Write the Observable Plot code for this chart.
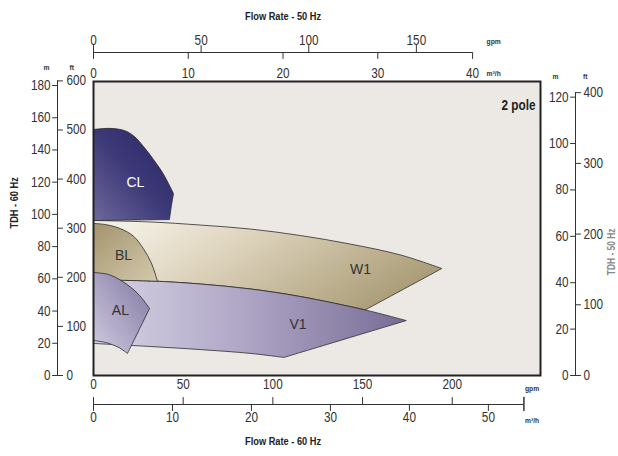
<!DOCTYPE html>
<html><head><meta charset="utf-8">
<script src="https://cdn.jsdelivr.net/npm/d3@7"></script>
<script src="https://cdn.jsdelivr.net/npm/@observablehq/plot@0.6"></script>
<style>html,body{margin:0;padding:0;background:#fff;} svg{display:block}</style>
</head><body><div id="chart"></div>
<script>
// unit conversions
const FT_PER_M = 3.2808;
const GPM_TO_M3H = 0.22712;
const Q50_TO_60 = 1.2;   // flow affinity 50 Hz -> 60 Hz
const H50_TO_60 = 1.44;  // head affinity 50 Hz -> 60 Hz

// axis tick values
const flow60M3hTicks = [0, 10, 20, 30, 40, 50];
const flow60GpmTicks = [0, 50, 100, 150, 200];
const flow60AxisEnd = 54.5;
const flow50M3hTicks = [0, 10, 20, 30, 40];
const flow50GpmTicks = [0, 50, 100, 150];
const head60MTicks = [0, 20, 40, 60, 80, 100, 120, 140, 160, 180];
const head60FtTicks = [0, 100, 200, 300, 400, 500, 600];
const head50MTicks = [0, 20, 40, 60, 80, 100, 120];
const head50FtTicks = [0, 100, 200, 300, 400];

// performance regions: flow (m3/h @60Hz) and head (m @60Hz)
const w1Flow = [0, 7.2, 13.5, 19.9, 26.2, 32.5, 38.9, 44.1, 34.4, 26.2, 19.9, 13.5, 7.2, 0, 0];
const w1Head = [96.2, 95.3, 93.4, 90.9, 86.9, 81.6, 74.8, 66.4, 40.7, 49.0, 53.7, 56.8, 58.7, 59.6, 96.2];
const v1Flow = [0, 7.2, 13.5, 19.9, 26.2, 34.4, 39.6, 24.1, 19.9, 13.5, 7.2, 0, 0];
const v1Head = [59.6, 58.7, 56.8, 53.7, 49.0, 40.7, 34.1, 11.2, 13.7, 16.1, 18.0, 19.9, 59.6];
const clFlow = [0, 1.27, 2.53, 4.05, 5.19, 6.33, 7.59, 8.73, 9.49, 10.13, 9.87, 9.62, 0, 0];
const clHead = [152.7, 153.3, 153.3, 151.8, 148.3, 142.1, 134.1, 126.0, 119.2, 113.0, 105.5, 96.8, 96.2, 152.7];
const blFlow = [0, 1.5, 3.4, 5.1, 6.3, 7.3, 8.1, 0, 0];
const blHead = [94.4, 93.7, 91.2, 86.3, 78.8, 70.1, 58.5, 59.6, 94.4];
const alFlow = [0, 1.9, 3.7, 5.6, 7.1, 4.3, 3.2, 1.5, 0, 0];
const alHead = [63.9, 62.7, 58.3, 50.9, 41.6, 13.7, 17.4, 20.5, 21.7, 63.9];

const regionNames = ["CL", "BL", "AL", "W1", "V1"];
const labelFlow = [5.3, 3.8, 3.4, 33.8, 25.9];
const labelHead = [119.9, 74.5, 40.3, 65.8, 31.6];

const X_MAX = 56.6, Y_MAX = 182.5;

// indices of sharp corners in each outline (the rest is a smooth curve)
const corners = {w1: [0, 7, 8, 13, 14], v1: [0, 6, 7, 11, 12], cl: [0, 9, 11, 12, 13], bl: [0, 6, 7, 8], al: [0, 4, 5, 8, 9]};

function outline(fx, hy, cornerIdx) {
  const out = [];
  fx.forEach((x, i) => {
    out.push({x, y: hy[i]});
    if (cornerIdx.includes(i)) out.push({x, y: hy[i]});
  });
  return out;
}
const labels = regionNames.map((name, i) => ({name, x: labelFlow[i], y: labelHead[i]}));

const FONT = "'Liberation Sans', Arial, sans-serif";
const INK = "#333";
const tickShape = {draw(ctx, l) { ctx.moveTo(0, 0); ctx.lineTo(0, -l); }};

function gradientDefs() {
  const defs = d3.create("svg:defs");
  const grads = [
    {id: "gCL", x1: 0, y1: 1, x2: 1, y2: 0, stops: [["0%", "#6d679b"], ["50%", "#3d3978"], ["100%", "#2a2664"]]},
    {id: "gW1", x1: 0, y1: 0.3, x2: 1, y2: 0.7, stops: [["0%", "#f4efe4"], ["35%", "#ddd3bc"], ["100%", "#a59770"]]},
    {id: "gBL", x1: 0, y1: 0, x2: 1, y2: 1, stops: [["0%", "#a3946c"], ["100%", "#d3c9ad"]]},
    {id: "gV1", x1: 0, y1: 0, x2: 1, y2: 0, stops: [["0%", "#d8d4e6"], ["50%", "#ada4c4"], ["100%", "#786c95"]]},
    {id: "gAL", x1: 1, y1: 0, x2: 0, y2: 1, stops: [["0%", "#8177a2"], ["100%", "#d0cbe0"]]}
  ];
  for (const g of grads) {
    const lg = defs.append("linearGradient").attr("id", g.id)
      .attr("x1", g.x1).attr("y1", g.y1).attr("x2", g.x2).attr("y2", g.y2);
    for (const [o, c] of g.stops) lg.append("stop").attr("offset", o).attr("stop-color", c);
  }
  return defs.node();
}

const region = (fx, hy, cornerIdx, grad) => Plot.line(outline(fx, hy, cornerIdx), {x: "x", y: "y", curve: "catmull-rom", fill: `url(#${grad})`, stroke: "#2b2b2b", strokeWidth: 0.8, strokeLinejoin: "miter"});

function hAxis({ticks, toX, anchor, dyLine, dir, dyText, len}) {
  return [
    Plot.vector(ticks, {x: toX, frameAnchor: anchor, dy: dyLine, length: len, rotate: dir, anchor: "start", shape: tickShape, stroke: INK, strokeWidth: 1}),
    Plot.text(ticks, {x: toX, frameAnchor: anchor, dy: dyText, text: d => d, fontSize: 14, fontFamily: FONT, fill: INK})
  ];
}
function vAxis({ticks, toY, anchor, dxLine, dir, dxText, textAnchor}) {
  return [
    Plot.vector(ticks, {y: toY, frameAnchor: anchor, dx: dxLine, length: 5, rotate: dir, anchor: "start", shape: tickShape, stroke: INK, strokeWidth: 1}),
    Plot.text(ticks, {y: toY, frameAnchor: anchor, dx: dxText, textAnchor, text: d => d, fontSize: 14, fontFamily: FONT, fill: INK})
  ];
}
const small = (t, anchor, dx, dy, extra = {}) => Plot.text([t], {text: d => d, frameAnchor: anchor, dx, dy, fontSize: 8, fontWeight: "bold", fontFamily: FONT, fill: INK, ...extra});

const chart = Plot.plot({
  width: 618, height: 456,
  marginLeft: 93, marginRight: 78, marginTop: 81, marginBottom: 81,
  x: {domain: [0, X_MAX], axis: null},
  y: {domain: [0, Y_MAX], axis: null},
  style: {fontFamily: FONT, background: "transparent", overflow: "visible"},
  marks: [
    gradientDefs,
    Plot.frame({fill: "#ece9e5", stroke: null}),
    region(w1Flow, w1Head, corners.w1, "gW1"),
    region(v1Flow, v1Head, corners.v1, "gV1"),
    region(clFlow, clHead, corners.cl, "gCL"),
    region(blFlow, blHead, corners.bl, "gBL"),
    region(alFlow, alHead, corners.al, "gAL"),
    Plot.text(labels, {x: "x", y: "y", text: "name", fontSize: 14, fontFamily: FONT,
      fill: d => d.name === "CL" ? "#ffffff" : "#333333"}),
    Plot.text(["2 pole"], {text: d => d, frameAnchor: "top-right", dx: -5, dy: 19, textAnchor: "end", fontSize: 14, fontWeight: "bold", fontFamily: FONT, fill: "#222"}),
    Plot.frame({stroke: "#222", strokeWidth: 2}),

    // top axis: flow at 50 Hz
    Plot.ruleY([Y_MAX], {x1: 0, x2: flow50M3hTicks[flow50M3hTicks.length - 1] * Q50_TO_60, dy: -29, stroke: INK, strokeWidth: 1}),
    ...hAxis({ticks: flow50GpmTicks, toX: d => d * GPM_TO_M3H * Q50_TO_60, anchor: "top", dyLine: -29, dir: 0, dyText: -46, len: 7}),
    ...hAxis({ticks: flow50M3hTicks, toX: d => d * Q50_TO_60, anchor: "top", dyLine: -29, dir: 180, dyText: -13, len: 6}),
    Plot.text(["Flow Rate - 50 Hz"], {text: d => d, x: () => 20 * Q50_TO_60, frameAnchor: "top", dy: -69, fontSize: 11, fontWeight: "bold", fontFamily: FONT, fill: "#222"}),
    small("gpm", "top", 0, -43, {x: () => 40 * Q50_TO_60, dx: 14, textAnchor: "start"}),
    small("m³/h", "top", 0, -11, {x: () => 40 * Q50_TO_60, dx: 14, textAnchor: "start"}),

    // bottom axis: flow at 60 Hz
    Plot.ruleY([0], {x1: 0, x2: flow60AxisEnd, dy: 29, stroke: INK, strokeWidth: 1}),
    ...hAxis({ticks: flow60GpmTicks, toX: d => d * GPM_TO_M3H, anchor: "bottom", dyLine: 29, dir: 0, dyText: 13, len: 7}),
    ...hAxis({ticks: flow60M3hTicks, toX: d => d, anchor: "bottom", dyLine: 29, dir: 180, dyText: 46, len: 6}),
    Plot.vector([flow60AxisEnd], {x: d => d, frameAnchor: "bottom", dy: 22, length: 13, rotate: 180, anchor: "start", shape: tickShape, stroke: INK}),
    Plot.text(["Flow Rate - 60 Hz"], {text: d => d, x: () => 24, frameAnchor: "bottom", dy: 69, fontSize: 11, fontWeight: "bold", fontFamily: FONT, fill: "#222"}),
    small("gpm", "bottom", 0, 15, {x: () => flow60AxisEnd, dx: 1, textAnchor: "start"}),
    small("m³/h", "bottom", 0, 47, {x: () => flow60AxisEnd, dx: 1, textAnchor: "start"}),

    // left axis: head at 60 Hz
    Plot.ruleX([0], {y1: 0, y2: 600 / FT_PER_M, dx: -36, stroke: INK, strokeWidth: 1}),
    ...vAxis({ticks: head60MTicks, toY: d => d, anchor: "left", dxLine: -36, dir: -90, dxText: -43, textAnchor: "end"}),
    ...vAxis({ticks: head60FtTicks, toY: d => d / FT_PER_M, anchor: "left", dxLine: -36, dir: 90, dxText: -27, textAnchor: "start"}),
    small("m", "top-left", -50, -17),
    small("ft", "top-left", -24, -17),
    Plot.text(["TDH - 60 Hz"], {text: d => d, frameAnchor: "left", dx: -79, rotate: -90, fontSize: 11, fontWeight: "bold", fontFamily: FONT, fill: "#222"}),

    // right axis: head at 50 Hz
    Plot.ruleX([X_MAX], {y1: 0, y2: 400 / FT_PER_M * H50_TO_60, dx: 35, stroke: INK, strokeWidth: 1}),
    ...vAxis({ticks: head50MTicks, toY: d => d * H50_TO_60, anchor: "right", dxLine: 35, dir: -90, dxText: 28, textAnchor: "end"}),
    ...vAxis({ticks: head50FtTicks, toY: d => d / FT_PER_M * H50_TO_60, anchor: "right", dxLine: 35, dir: 90, dxText: 43, textAnchor: "start"}),
    small("m", "top-right", 18, -8),
    small("ft", "top-right", 47, -8),
    Plot.text(["TDH - 50 Hz"], {text: d => d, frameAnchor: "right", dx: 71, rotate: -90, fontSize: 10, fontWeight: "bold", fontFamily: FONT, fill: "#888"})
  ]
});
document.getElementById("chart").appendChild(chart);

// condensed lettering (the original uses a narrow sans face)
const keepWide = new Set(regionNames);
chart.querySelectorAll("text").forEach(el => {
  if (keepWide.has(el.textContent)) return;
  const w = el.getComputedTextLength();
  if (w > 0) {
    el.setAttribute("textLength", (w * 0.84).toFixed(2));
    el.setAttribute("lengthAdjust", "spacingAndGlyphs");
  }
});
</script>
</body></html>
